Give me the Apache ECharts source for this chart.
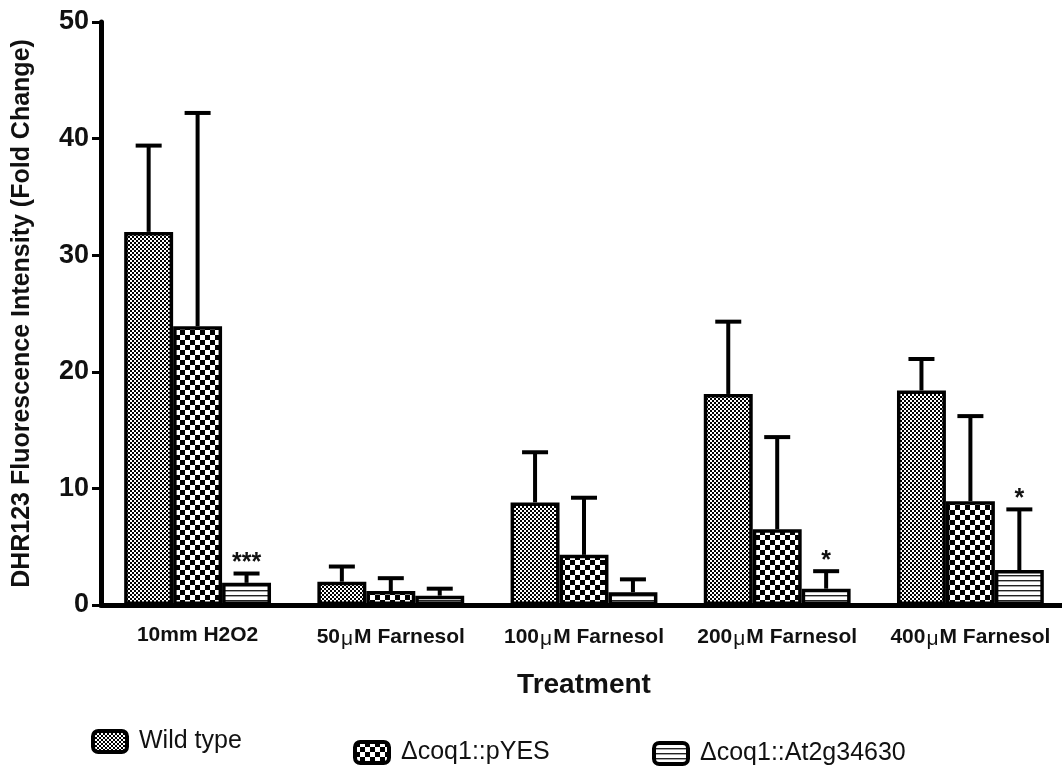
<!DOCTYPE html>
<html>
<head>
<meta charset="utf-8">
<script src="https://cdn.jsdelivr.net/npm/echarts@6/dist/echarts.min.js"></script>
<style>
  html, body { margin: 0; padding: 0; background: #fff; }
  #chart { width: 1062px; height: 769px; }
</style>
</head>
<body>
<div id="chart"></div>
<script>
// Treatments along the x axis
const categories = ['10mm H2O2', '50μM Farnesol', '100μM Farnesol', '200μM Farnesol', '400μM Farnesol'];
const seriesNames = ['Wild type', 'Δcoq1::pYES', 'Δcoq1::At2g34630'];

// Mean fold change per strain
const wildType = [32.0, 2.0, 8.8, 18.1, 18.4];
const pYES = [23.9, 1.2, 4.3, 6.5, 8.9];
const at2g = [1.9, 0.8, 1.1, 1.4, 3.0];

// Upper error (SD) per strain
const wildTypeErr = [7.4, 1.3, 4.3, 6.2, 2.7];
const pYESErr = [18.3, 1.1, 4.9, 7.9, 7.3];
const at2gErr = [0.8, 0.6, 1.1, 1.5, 5.2];

// Significance marks above the Δcoq1::At2g34630 bars
const at2gStars = ['***', '', '', '*', '*'];

const yTicks = [0, 10, 20, 30, 40, 50];

// Fill patterns drawn on small tiles
function tile(w, h, draw) {
  const c = document.createElement('canvas');
  c.width = w; c.height = h;
  const ctx = c.getContext('2d');
  ctx.fillStyle = '#fff';
  ctx.fillRect(0, 0, w, h);
  ctx.fillStyle = '#000';
  draw(ctx);
  return { image: c, repeat: 'repeat' };
}
const fineChecker = tile(4, 4, ctx => { ctx.fillRect(0, 0, 2, 2); ctx.fillRect(2, 2, 2, 2); });
const coarseChecker = tile(10, 10, ctx => { ctx.fillRect(0, 0, 5, 5); ctx.fillRect(5, 5, 5, 5); });
const hLines = tile(4, 5, ctx => { ctx.fillStyle = '#222'; ctx.fillRect(0, 0, 4, 1.4); });
const fills = [fineChecker, coarseChecker, hLines];

const means = [wildType, pYES, at2g];
const errs = [wildTypeErr, pYESErr, at2gErr];
const stars = [[], [], at2gStars];

const FONT = '"Liberation Sans", Arial, Helvetica, sans-serif';
const GAP = 0.24;

const chart = echarts.init(document.getElementById('chart'), null, { renderer: 'canvas' });

const barSeries = seriesNames.map((name, k) => ({
  name,
  type: 'bar',
  data: means[k],
  barGap: '0%',
  barCategoryGap: (GAP * 100) + '%',
  itemStyle: { color: fills[k], borderColor: '#000', borderWidth: 3.5 },
  emphasis: { disabled: true },
  z: 2
}));

// Upper error bars with caps, plus significance marks, placed over each bar
const errorSeries = seriesNames.map((name, k) => ({
  name: name + ' error',
  type: 'custom',
  z: 3,
  silent: true,
  data: categories.map((c, i) => [i, means[k][i], errs[k][i]]),
  renderItem(params, api) {
    const idx = api.value(0);
    const m = api.value(1);
    const e = api.value(2);
    const band = api.size([1, 0])[0];
    const bw = band * (1 - GAP) / 3;
    const dx = (k - 1) * bw;
    const p0 = api.coord([idx, m]);
    const p1 = api.coord([idx, m + e]);
    const x = p0[0] + dx;
    const half = 13;
    const children = [
      { type: 'line', shape: { x1: x, y1: p0[1], x2: x, y2: p1[1] },
        style: { stroke: '#000', lineWidth: 4 } },
      { type: 'line', shape: { x1: x - half, y1: p1[1], x2: x + half, y2: p1[1] },
        style: { stroke: '#000', lineWidth: 4 } }
    ];
    const star = stars[k][params.dataIndex];
    if (star) {
      children.push({ type: 'text', x: x, y: p1[1] + 2,
        style: { text: star, fill: '#111', font: 'bold 25px ' + FONT, align: 'center', verticalAlign: 'bottom' } });
    }
    return { type: 'group', children };
  }
}));

const legendBase = {
  orient: 'horizontal',
  padding: 0,
  itemWidth: 34,
  itemHeight: 21,
  icon: 'roundRect',
  selectedMode: false,
  itemStyle: { borderColor: '#000', borderWidth: 4 },
  textStyle: { fontFamily: FONT, fontSize: 25, color: '#111', padding: [0, 0, 0, 7] }
};

const option = {
  backgroundColor: '#fff',
  animation: false,
  grid: { left: 101, top: 22, width: 966, height: 583, containLabel: false, outerBoundsMode: 'none' },
  legend: [
    Object.assign({}, legendBase, { data: [seriesNames[0]], left: 91, top: 729 }),
    Object.assign({}, legendBase, { data: [seriesNames[1]], left: 353, top: 740 }),
    Object.assign({}, legendBase, { data: [seriesNames[2]], left: 652, top: 741 })
  ],
  xAxis: {
    type: 'category',
    data: categories,
    name: 'Treatment',
    nameLocation: 'middle',
    nameGap: 66,
    nameTextStyle: { fontFamily: FONT, fontSize: 28, fontWeight: 'bold', color: '#111' },
    axisLine: { lineStyle: { color: '#000', width: 5 } },
    axisTick: { show: false },
    axisLabel: {
      interval: 0,
      margin: 20,
      fontFamily: FONT, fontSize: 21, fontWeight: 'bold', color: '#111',
      formatter: v => v.replace('μ', '{mu|μ}'),
      rich: { mu: { fontFamily: FONT, fontSize: 21, fontWeight: 'normal', color: '#111', padding: [4, 1, 0, 1] } }
    }
  },
  yAxis: {
    type: 'value',
    min: yTicks[0],
    max: yTicks[yTicks.length - 1],
    interval: yTicks[1] - yTicks[0],
    name: 'DHR123 Fluorescence Intensity (Fold Change)',
    nameLocation: 'middle',
    nameGap: 66,
    nameTextStyle: { fontFamily: FONT, fontSize: 25, fontWeight: 'bold', color: '#111' },
    axisLine: { show: true, lineStyle: { color: '#000', width: 5 } },
    axisTick: { show: true, length: 9, lineStyle: { color: '#000', width: 3 } },
    axisLabel: { margin: 12, fontFamily: FONT, fontSize: 27, fontWeight: 'bold', color: '#111' },
    splitLine: { show: false }
  },
  series: barSeries.concat(errorSeries)
};

chart.setOption(option);
</script>
</body>
</html>
